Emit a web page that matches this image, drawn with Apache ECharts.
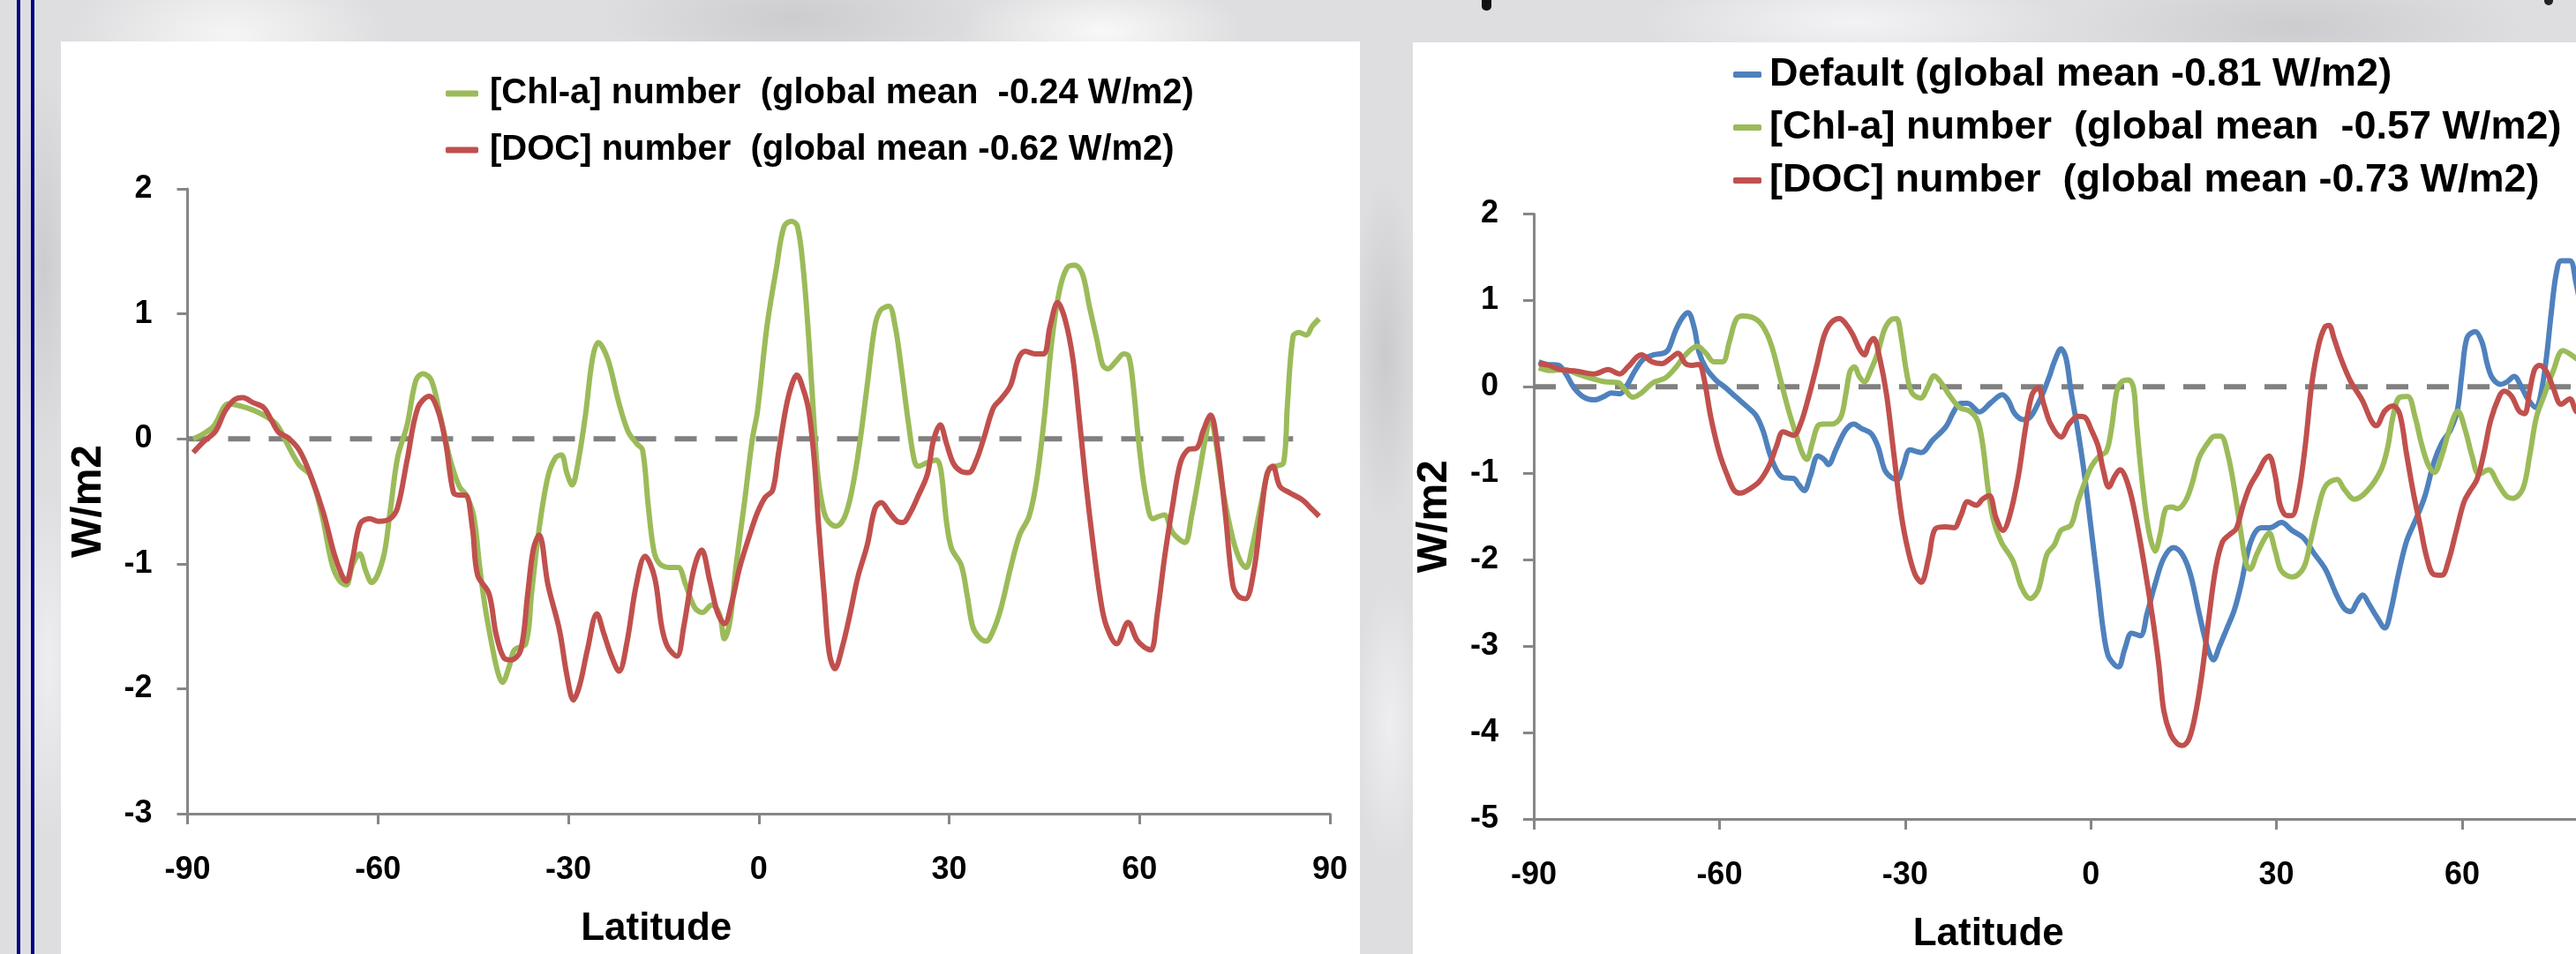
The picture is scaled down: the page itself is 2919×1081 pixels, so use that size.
<!DOCTYPE html>
<html lang="en">
<head>
    <meta charset="UTF-8" />
    <title>Radiative effect by latitude</title>
    <script src="https://cdn.jsdelivr.net/npm/echarts@6.0.0/dist/echarts.min.js"></script>
    <style>
        html, body { margin: 0; padding: 0; overflow: hidden; }
        body {
            width: 2919px; height: 1081px;
            background-color: #dedee0;
            background-image:
                radial-gradient(ellipse 180px 90px at 260px 40px, rgba(255,255,255,0.7), rgba(255,255,255,0)),
                radial-gradient(ellipse 220px 70px at 900px 20px, rgba(200,200,204,0.8), rgba(200,200,204,0)),
                radial-gradient(ellipse 160px 60px at 1250px 35px, rgba(255,255,255,0.8), rgba(255,255,255,0)),
                radial-gradient(ellipse 40px 200px at 1570px 400px, rgba(200,200,204,0.9), rgba(200,200,204,0)),
                radial-gradient(ellipse 40px 160px at 1575px 820px, rgba(240,240,242,0.9), rgba(240,240,242,0)),
                radial-gradient(ellipse 40px 220px at 50px 300px, rgba(200,200,204,0.8), rgba(200,200,204,0)),
                radial-gradient(ellipse 40px 200px at 55px 750px, rgba(240,240,242,0.9), rgba(240,240,242,0)),
                radial-gradient(ellipse 240px 60px at 2100px 25px, rgba(248,248,250,0.8), rgba(248,248,250,0)),
                radial-gradient(ellipse 260px 70px at 2600px 30px, rgba(200,200,204,0.8), rgba(200,200,204,0));
        }
        #chart { width: 3100px; height: 1081px; }
    </style>
</head>
<body>
    <div id="chart"></div>
    <script>
        // series values: [latitude, W/m2]
        var chlLeft = [
            [-89.1, 0.0], [-87.5, 0.04], [-85.9, 0.10], [-83.5, 0.28], [-81.5, 0.26], [-79.7, 0.23],
            [-77.7, 0.18], [-75.9, 0.11], [-74.2, -0.05], [-72.4, -0.21], [-70.7, -0.29], [-68.9, -0.59],
            [-67.2, -1.01], [-66.0, -1.14], [-65.0, -1.17], [-64.0, -1.01], [-62.9, -0.92], [-61.9, -1.06],
            [-61.0, -1.15], [-59.2, -0.96], [-58.1, -0.59], [-56.9, -0.15], [-55.4, 0.11], [-54.0, 0.47],
            [-52.9, 0.52], [-51.6, 0.47], [-50.2, 0.19], [-48.7, -0.15], [-47.2, -0.38], [-46.1, -0.45],
            [-44.9, -0.62], [-44.0, -1.01], [-43.1, -1.35], [-42.0, -1.66], [-41.1, -1.87], [-40.4, -1.95],
            [-39.3, -1.82], [-38.5, -1.69], [-36.7, -1.64], [-35.8, -1.24], [-34.6, -0.72], [-33.2, -0.30],
            [-32.0, -0.15], [-31.1, -0.13], [-30.2, -0.28], [-29.4, -0.37], [-28.5, -0.20], [-27.3, 0.19],
            [-26.2, 0.64], [-25.3, 0.77], [-23.8, 0.64], [-22.1, 0.30], [-20.6, 0.06], [-19.2, -0.04],
            [-18.3, -0.09], [-17.4, -0.54], [-16.5, -0.90], [-15.6, -1.00], [-13.9, -1.03], [-12.7, -1.03],
            [-11.5, -1.17], [-10.1, -1.35], [-8.9, -1.39], [-7.4, -1.33], [-6.2, -1.40], [-5.4, -1.60],
            [-4.5, -1.45], [-3.6, -1.03], [-2.2, -0.49], [-1.0, 0.0], [-0.2, 0.22], [1.3, 0.90],
            [2.8, 1.37], [4.0, 1.70], [5.2, 1.74], [6.1, 1.70], [7.0, 1.37], [7.9, 0.79],
            [8.8, 0.06], [9.4, -0.33], [10.3, -0.59], [11.1, -0.67], [12.2, -0.70], [13.5, -0.63],
            [14.7, -0.41], [15.9, -0.04], [17.1, 0.43], [18.3, 0.90], [19.2, 1.03], [20.5, 1.06],
            [21.5, 0.90], [22.4, 0.59], [23.6, 0.12], [24.5, -0.17], [25.1, -0.22], [26.6, -0.19],
            [28.0, -0.17], [28.7, -0.25], [29.6, -0.67], [30.4, -0.88], [31.9, -1.01], [32.8, -1.24],
            [33.7, -1.50], [34.6, -1.58], [35.8, -1.62], [37.0, -1.53], [38.2, -1.35], [39.7, -1.03],
            [41.1, -0.77], [42.6, -0.62], [43.8, -0.33], [45.0, 0.17], [46.2, 0.79], [47.4, 1.19],
            [48.6, 1.37], [49.8, 1.39], [51.0, 1.32], [52.1, 1.06], [53.3, 0.79], [54.2, 0.59],
            [55.0, 0.56], [56.3, 0.62], [57.5, 0.68], [58.3, 0.66], [59.0, 0.43], [59.9, -0.04],
            [61.0, -0.46], [62.1, -0.64], [63.1, -0.62], [63.9, -0.61], [65.2, -0.75], [66.4, -0.81],
            [67.2, -0.83], [68.2, -0.62], [69.4, -0.28], [70.3, -0.02], [71.2, 0.17], [72.0, -0.02],
            [73.2, -0.43], [74.7, -0.80], [75.9, -0.98], [76.8, -1.03], [77.7, -0.88], [79.2, -0.51],
            [80.4, -0.24], [81.5, -0.22], [82.7, -0.19], [83.3, 0.27], [84.2, 0.82], [85.1, 0.85],
            [86.3, 0.83], [87.2, 0.90], [88.3, 0.96]
        ];
        var docLeft = [
            [-89.1, -0.11], [-87.4, -0.02], [-85.6, 0.06], [-84.1, 0.22], [-82.7, 0.31], [-81.3, 0.33],
            [-79.7, 0.29], [-78.0, 0.25], [-76.8, 0.15], [-75.6, 0.05], [-74.2, 0.01], [-72.4, -0.09],
            [-70.7, -0.28], [-68.6, -0.59], [-66.9, -0.92], [-65.7, -1.09], [-65.0, -1.14], [-64.0, -0.96],
            [-62.8, -0.68], [-61.3, -0.64], [-59.9, -0.66], [-58.1, -0.64], [-56.9, -0.55], [-55.4, -0.17],
            [-53.7, 0.25], [-51.9, 0.34], [-50.5, 0.22], [-49.3, -0.04], [-48.1, -0.43], [-47.2, -0.45],
            [-46.2, -0.45], [-45.1, -0.72], [-44.3, -1.09], [-42.5, -1.24], [-41.4, -1.56], [-40.2, -1.75],
            [-39.0, -1.77], [-37.5, -1.69], [-36.4, -1.24], [-35.5, -0.88], [-34.6, -0.77], [-33.2, -1.17],
            [-31.4, -1.53], [-30.2, -1.90], [-29.2, -2.09], [-28.2, -1.97], [-27.0, -1.69], [-25.5, -1.40],
            [-24.4, -1.56], [-23.2, -1.74], [-22.0, -1.86], [-20.8, -1.64], [-19.3, -1.17], [-17.9, -0.94],
            [-16.4, -1.11], [-15.3, -1.50], [-14.4, -1.66], [-12.9, -1.74], [-11.8, -1.50], [-10.3, -1.06],
            [-9.0, -0.89], [-7.7, -1.14], [-6.5, -1.39], [-5.4, -1.48], [-4.2, -1.30], [-3.0, -1.03],
            [-1.3, -0.75], [-0.2, -0.59], [1.0, -0.47], [2.2, -0.41], [3.1, -0.12], [4.3, 0.25],
            [5.2, 0.43], [6.0, 0.51], [7.0, 0.40], [7.9, 0.22], [8.8, -0.20], [9.4, -0.67],
            [10.3, -1.24], [11.1, -1.71], [12.0, -1.84], [13.2, -1.66], [14.4, -1.40], [15.6, -1.11],
            [17.1, -0.85], [18.3, -0.56], [19.3, -0.51], [20.6, -0.59], [21.8, -0.66], [22.7, -0.67],
            [23.9, -0.59], [25.1, -0.46], [26.6, -0.28], [27.5, -0.02], [28.6, 0.11], [29.6, -0.04],
            [30.7, -0.20], [31.9, -0.26], [33.1, -0.27], [34.3, -0.17], [35.5, 0.01], [37.0, 0.25],
            [38.2, 0.32], [39.7, 0.43], [40.9, 0.64], [42.0, 0.70], [43.5, 0.68], [44.9, 0.68],
            [45.9, 0.90], [47.1, 1.09], [48.3, 0.95], [49.5, 0.64], [50.4, 0.22], [51.5, -0.33],
            [52.7, -0.85], [53.9, -1.30], [54.8, -1.50], [56.4, -1.64], [58.2, -1.47], [59.6, -1.61],
            [60.8, -1.67], [61.8, -1.69], [62.8, -1.40], [64.0, -0.93], [65.2, -0.54], [66.4, -0.20],
            [67.6, -0.09], [69.1, -0.07], [70.0, 0.06], [71.2, 0.19], [72.3, -0.07], [73.5, -0.59],
            [74.7, -1.17], [75.6, -1.26], [76.7, -1.28], [78.0, -1.06], [79.2, -0.59], [80.1, -0.28],
            [81.0, -0.22], [82.1, -0.38], [83.6, -0.43], [85.7, -0.49], [86.9, -0.55], [88.3, -0.62]
        ];
        var defRight = [
            [-89.2, 0.29], [-87.9, 0.26], [-86.0, 0.25], [-84.9, 0.16], [-83.5, -0.01], [-81.9, -0.12],
            [-80.2, -0.15], [-78.6, -0.11], [-77.5, -0.07], [-76.1, -0.08], [-75.0, 0.01], [-73.7, 0.18],
            [-72.3, 0.32], [-70.7, 0.37], [-69.0, 0.39], [-68.2, 0.44], [-67.1, 0.65], [-66.0, 0.80],
            [-65.1, 0.86], [-64.1, 0.69], [-63.3, 0.40], [-62.2, 0.22], [-60.6, 0.08], [-59.0, -0.01],
            [-57.3, -0.12], [-55.7, -0.22], [-54.1, -0.33], [-53.0, -0.50], [-51.9, -0.77], [-50.8, -0.96],
            [-49.7, -1.05], [-48.0, -1.06], [-47.2, -1.13], [-46.3, -1.20], [-45.3, -1.03], [-44.1, -0.80],
            [-43.1, -0.84], [-42.4, -0.90], [-41.2, -0.73], [-39.6, -0.50], [-38.3, -0.43], [-37.1, -0.48],
            [-35.5, -0.54], [-34.4, -0.69], [-33.3, -0.96], [-32.2, -1.05], [-31.2, -1.07], [-30.3, -0.92],
            [-29.2, -0.73], [-27.4, -0.76], [-25.6, -0.62], [-23.4, -0.46], [-22.1, -0.28], [-21.0, -0.19],
            [-19.9, -0.19], [-18.0, -0.29], [-16.1, -0.18], [-14.3, -0.09], [-13.3, -0.16], [-12.3, -0.31],
            [-10.9, -0.38], [-9.8, -0.35], [-8.7, -0.22], [-7.6, -0.05], [-6.6, 0.14], [-5.9, 0.29],
            [-4.8, 0.44], [-4.0, 0.33], [-3.2, -0.05], [-2.1, -0.50], [-1.0, -1.03], [0.1, -1.67],
            [1.2, -2.32], [2.0, -2.81], [2.8, -3.11], [3.9, -3.22], [4.5, -3.24], [5.5, -3.03],
            [6.6, -2.85], [8.0, -2.88], [9.1, -2.62], [10.4, -2.28], [11.8, -1.98], [13.4, -1.86],
            [14.8, -1.94], [16.1, -2.17], [17.5, -2.62], [18.9, -3.03], [19.8, -3.16], [20.8, -3.00],
            [21.9, -2.81], [23.2, -2.58], [24.3, -2.28], [25.4, -1.90], [26.5, -1.69], [27.6, -1.63],
            [28.9, -1.63], [30.8, -1.57], [32.5, -1.66], [34.4, -1.75], [36.0, -1.92], [37.9, -2.11],
            [39.6, -2.39], [40.9, -2.56], [42.0, -2.60], [43.0, -2.49], [43.9, -2.41], [45.0, -2.52],
            [46.1, -2.65], [47.5, -2.79], [48.5, -2.58], [49.6, -2.20], [51.0, -1.79], [52.6, -1.52],
            [54.0, -1.26], [55.4, -0.88], [56.7, -0.65], [58.1, -0.50], [59.2, -0.28], [60.0, 0.18],
            [60.8, 0.57], [62.1, 0.64], [63.2, 0.52], [64.1, 0.25], [64.9, 0.10], [66.2, 0.03],
            [67.3, 0.06], [68.4, 0.12], [69.5, 0.01], [70.6, -0.14], [71.9, -0.24], [72.8, -0.05],
            [73.6, 0.33], [74.4, 0.86], [75.2, 1.31], [76.0, 1.46], [77.4, 1.46], [78.4, 1.20],
            [79.2, 0.90]
        ];
        var chlRight = [
            [-89.2, 0.22], [-87.3, 0.19], [-85.1, 0.20], [-83.0, 0.15], [-80.8, 0.10], [-78.6, 0.06],
            [-76.4, 0.05], [-75.3, -0.03], [-74.0, -0.12], [-72.6, -0.07], [-70.7, 0.05], [-68.8, 0.10],
            [-67.1, 0.22], [-65.5, 0.37], [-63.6, 0.47], [-62.2, 0.39], [-60.9, 0.29], [-59.5, 0.29],
            [-58.4, 0.52], [-57.3, 0.78], [-56.2, 0.82], [-54.3, 0.79], [-52.9, 0.69], [-51.6, 0.48],
            [-50.2, 0.10], [-48.8, -0.28], [-47.5, -0.58], [-46.6, -0.77], [-45.9, -0.84], [-45.0, -0.65],
            [-44.1, -0.45], [-43.1, -0.43], [-41.8, -0.43], [-40.4, -0.35], [-39.6, -0.09], [-38.9, 0.18],
            [-38.2, 0.23], [-37.4, 0.12], [-36.6, 0.06], [-35.5, 0.20], [-34.4, 0.40], [-33.3, 0.67],
            [-32.2, 0.78], [-31.4, 0.79], [-30.6, 0.56], [-29.8, 0.18], [-28.9, -0.07], [-27.5, -0.13],
            [-26.4, -0.01], [-25.3, 0.13], [-24.3, 0.06], [-22.9, -0.09], [-21.2, -0.24], [-19.6, -0.28],
            [-18.3, -0.39], [-17.5, -0.65], [-16.6, -1.18], [-15.8, -1.52], [-14.5, -1.79], [-12.6, -2.01],
            [-11.2, -2.32], [-9.8, -2.45], [-8.5, -2.35], [-7.1, -1.94], [-5.9, -1.83], [-4.8, -1.66],
            [-3.2, -1.60], [-2.1, -1.33], [-1.0, -1.11], [0.1, -0.92], [1.4, -0.80], [2.5, -0.75],
            [3.3, -0.50], [4.2, -0.05], [5.0, 0.06], [6.1, 0.08], [6.9, -0.01], [7.4, -0.43],
            [8.2, -1.03], [9.3, -1.64], [10.4, -1.90], [11.2, -1.71], [12.1, -1.41], [13.1, -1.39],
            [14.0, -1.41], [15.3, -1.32], [16.4, -1.11], [17.5, -0.82], [18.9, -0.65], [20.0, -0.57],
            [21.0, -0.57], [22.1, -0.77], [23.2, -1.18], [24.3, -1.71], [25.1, -2.05], [25.7, -2.11],
            [26.8, -1.94], [27.8, -1.79], [28.8, -1.69], [29.8, -1.90], [30.8, -2.13], [32.6, -2.20],
            [34.4, -2.09], [35.5, -1.79], [36.6, -1.45], [37.9, -1.15], [39.8, -1.07], [40.9, -1.18],
            [42.6, -1.30], [44.7, -1.20], [46.9, -0.96], [48.0, -0.69], [48.8, -0.35], [49.9, -0.12],
            [51.2, -0.11], [52.4, -0.35], [53.4, -0.65], [54.5, -0.90], [55.5, -0.99], [56.7, -0.80],
            [58.1, -0.46], [59.3, -0.28], [60.5, -0.50], [61.6, -0.80], [62.7, -1.01], [64.3, -0.96],
            [65.7, -1.11], [67.1, -1.26], [68.2, -1.29], [69.8, -1.18], [70.9, -0.80], [72.0, -0.35],
            [73.3, -0.09], [74.7, 0.18], [76.3, 0.42], [78.4, 0.33], [79.2, 0.28]
        ];
        var docRight = [
            [-89.2, 0.27], [-87.6, 0.25], [-85.7, 0.20], [-83.0, 0.18], [-80.2, 0.15], [-78.0, 0.20],
            [-76.1, 0.15], [-74.8, 0.23], [-72.6, 0.37], [-70.9, 0.29], [-69.3, 0.27], [-67.9, 0.33],
            [-66.7, 0.39], [-65.5, 0.27], [-64.4, 0.25], [-63.3, 0.26], [-62.5, 0.10], [-61.4, -0.35],
            [-60.0, -0.77], [-58.7, -1.03], [-57.6, -1.20], [-56.6, -1.23], [-55.1, -1.18], [-53.5, -1.09],
            [-51.9, -0.90], [-50.8, -0.69], [-49.7, -0.52], [-48.0, -0.56], [-46.9, -0.43], [-45.6, -0.12],
            [-44.2, 0.27], [-43.1, 0.59], [-42.0, 0.74], [-40.6, 0.79], [-39.6, 0.73], [-38.5, 0.61],
            [-37.4, 0.44], [-36.6, 0.37], [-35.8, 0.50], [-35.1, 0.56], [-34.1, 0.33], [-33.0, -0.09],
            [-31.9, -0.73], [-30.6, -1.49], [-29.5, -1.90], [-28.4, -2.17], [-27.4, -2.26], [-26.2, -1.98],
            [-25.1, -1.64], [-23.4, -1.62], [-22.1, -1.63], [-21.0, -1.49], [-19.9, -1.33], [-18.5, -1.37],
            [-17.5, -1.30], [-16.4, -1.26], [-15.3, -1.52], [-14.2, -1.66], [-13.1, -1.49], [-11.7, -1.03],
            [-10.6, -0.50], [-9.5, -0.09], [-8.5, -0.01], [-7.6, -0.20], [-6.5, -0.43], [-4.8, -0.58],
            [-3.5, -0.43], [-2.1, -0.34], [-1.0, -0.35], [0.1, -0.50], [1.2, -0.69], [2.0, -0.96],
            [2.9, -1.16], [3.9, -1.03], [4.7, -0.96], [6.1, -1.15], [7.4, -1.56], [8.8, -2.13],
            [10.1, -2.73], [11.0, -3.22], [11.8, -3.75], [12.9, -4.02], [14.0, -4.13], [14.8, -4.15],
            [15.9, -4.07], [17.0, -3.75], [18.0, -3.30], [19.1, -2.66], [20.2, -2.09], [21.3, -1.79],
            [22.4, -1.71], [23.5, -1.64], [24.6, -1.37], [25.7, -1.15], [27.0, -0.99], [28.1, -0.84],
            [28.8, -0.80], [29.8, -1.03], [30.6, -1.37], [31.7, -1.49], [32.5, -1.49], [33.6, -1.22],
            [34.7, -0.65], [35.7, 0.03], [36.8, 0.48], [37.8, 0.69], [38.5, 0.71], [39.3, 0.56],
            [40.4, 0.33], [42.0, 0.06], [43.9, -0.16], [45.3, -0.39], [46.1, -0.45], [47.5, -0.28],
            [48.8, -0.22], [49.9, -0.31], [51.0, -0.77], [52.1, -1.22], [53.2, -1.60], [54.3, -1.98],
            [55.4, -2.17], [56.7, -2.18], [57.8, -2.01], [58.9, -1.71], [60.3, -1.33], [61.3, -1.20],
            [62.4, -1.07], [63.5, -0.77], [64.6, -0.39], [66.0, -0.11], [66.8, -0.05], [68.0, -0.11],
            [69.2, -0.28], [70.1, -0.31], [70.9, -0.05], [71.7, 0.20], [72.5, 0.25], [73.6, 0.18],
            [74.7, -0.01], [76.0, -0.20], [77.4, -0.14], [78.4, -0.28], [79.2, -0.30]
        ];
        var zeroLeft = [[-90, 0], [84.2, 0]];
        var zeroRight = [[-90, 0], [90, 0]];

        var namesLeft = ["[Chl-a] number  (global mean  -0.24 W/m2)", "[DOC] number  (global mean -0.62 W/m2)"];
        var namesRight = ["Default (global mean -0.81 W/m2)", "[Chl-a] number  (global mean  -0.57 W/m2)", "[DOC] number  (global mean -0.73 W/m2)"];
        var latTicks = { min: -90, max: 90, interval: 30 };
        var leftRange = { min: -3, max: 2, interval: 1 };
        var rightRange = { min: -5, max: 2, interval: 1 };

        var FONT = "'Liberation Sans', Arial, sans-serif";
        var GREEN = "#9bbb59", RED = "#c0504d", BLUE = "#4f81bd", AXIS = "#868686";

        var chart = echarts.init(document.getElementById("chart"), null, { renderer: "canvas" });

        function xAxisOf(gridIndex) {
            return {
                type: "value", gridIndex: gridIndex,
                min: latTicks.min, max: latTicks.max, interval: latTicks.interval,
                name: "Latitude", nameLocation: "middle", nameGap: 109,
                nameTextStyle: { fontFamily: FONT, fontSize: 44, fontWeight: "bold", color: "#000", padding: [0, 232, 0, 0] },
                axisLine: { onZero: false, lineStyle: { color: AXIS, width: 3 } },
                axisTick: { length: 12, lineStyle: { color: AXIS, width: 3 } },
                axisLabel: { margin: 46, fontFamily: FONT, fontSize: 36, fontWeight: "bold", color: "#000" },
                splitLine: { show: false }
            };
        }
        function yAxisOf(gridIndex, range, nameSize) {
            return {
                type: "value", gridIndex: gridIndex,
                min: range.min, max: range.max, interval: range.interval,
                name: "W/m2", nameLocation: "middle", nameGap: 112 - nameSize / 2, nameRotate: 90,
                nameTextStyle: { fontFamily: FONT, fontSize: nameSize, fontWeight: "bold", color: "#000" },
                axisLine: { show: true, onZero: false, lineStyle: { color: AXIS, width: 3 } },
                axisTick: { show: true, length: 12, lineStyle: { color: AXIS, width: 3 } },
                axisLabel: { margin: 40, fontFamily: FONT, fontSize: 36, fontWeight: "bold", color: "#000" },
                splitLine: { show: false }
            };
        }
        function curve(name, data, color, idx) {
            return {
                type: "line", name: name, data: data, xAxisIndex: idx, yAxisIndex: idx,
                showSymbol: false, symbol: "none", smooth: 0.35, z: 3,
                lineStyle: { color: color, width: 6 }, itemStyle: { color: color }
            };
        }
        function zero(data, idx) {
            return {
                type: "line", name: "zero", data: data, xAxisIndex: idx, yAxisIndex: idx,
                symbol: "none", silent: true, z: 2,
                lineStyle: { color: "#808080", width: 6, type: [25, 21] }
            };
        }
        function legendOf(names, left, top, gap, size, iconW, pad) {
            return {
                data: names, left: left, top: top, orient: "vertical", selectedMode: false,
                icon: "roundRect", itemWidth: iconW, itemHeight: 7, itemGap: gap,
                textStyle: { fontFamily: FONT, fontSize: size, fontWeight: "bold", color: "#000", lineHeight: 44, padding: [0, 0, 0, pad] }
            };
        }

        var option = {
            backgroundColor: "transparent",
            animation: false,
            graphic: [
                { type: "rect", shape: { x: 69, y: 47, width: 1472, height: 1100 }, style: { fill: "#fff" }, z: -10 },
                { type: "rect", shape: { x: 1601, y: 48, width: 1600, height: 1100 }, style: { fill: "#fff" }, z: -10 },
                { type: "rect", shape: { x: 19, y: 0, width: 4, height: 1081 }, style: { fill: "#000080" }, z: -10 },
                { type: "rect", shape: { x: 35, y: 0, width: 4, height: 1081 }, style: { fill: "#000080" }, z: -10 },
                { type: "rect", shape: { x: 1679, y: -6, width: 11, height: 18, r: 5 }, style: { fill: "#111" }, z: -10 },
                { type: "rect", shape: { x: 2883, y: -6, width: 10, height: 12, r: 5 }, style: { fill: "#222" }, z: -10 }
            ],
            legend: [
                legendOf(namesLeft, 500, 79, 20, 40, 37, 8),
                legendOf(namesRight, 1959, 57, 15, 45, 32, 4)
            ],
            grid: [
                { left: 212.5, top: 214, width: 1294.5, height: 708, outerBoundsMode: "none" },
                { left: 1738, top: 242.5, width: 1262.4, height: 685.5, outerBoundsMode: "none" }
            ],
            xAxis: [xAxisOf(0), xAxisOf(1)],
            yAxis: [yAxisOf(0, leftRange, 48), yAxisOf(1, rightRange, 48)],
            series: [
                zero(zeroLeft, 0),
                curve(namesLeft[0], chlLeft, GREEN, 0),
                curve(namesLeft[1], docLeft, RED, 0),
                zero(zeroRight, 1),
                curve(namesRight[0], defRight, BLUE, 1),
                curve(namesRight[1], chlRight, GREEN, 1),
                curve(namesRight[2], docRight, RED, 1)
            ]
        };
        chart.setOption(option);
    </script>
</body>
</html>
